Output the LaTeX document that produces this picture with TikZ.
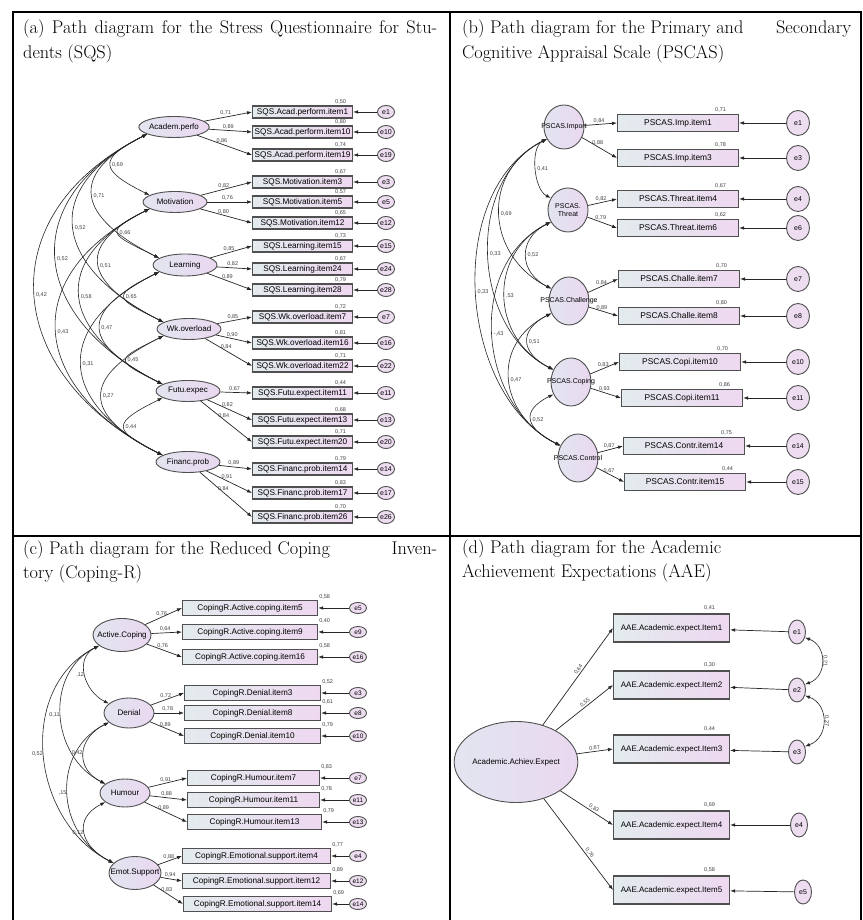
\documentclass[tikz,border=0pt]{standalone}
\usepackage{fontspec}
\newfontfamily\amos{Liberation Sans}
\usetikzlibrary{arrows.meta, positioning, shapes.geometric}
\definecolor{boxL}{HTML}{E3EBEE}
\definecolor{boxR}{HTML}{EED8F0}
\definecolor{latL}{HTML}{E2E5F0}
\definecolor{latR}{HTML}{EAD8F0}
\definecolor{errF}{HTML}{EEDDF1}
\definecolor{edge}{HTML}{505050}

\begin{document}
\begin{tikzpicture}[x=1pt, y=1pt, >={Latex[length=5pt,width=3.6pt]},
  lat/.style={ellipse, draw=edge, line width=0.9pt, left color=latL, right color=latR, inner sep=0pt, font=\amos\fontsize{8}{9}\selectfont},
  obs/.style={rectangle, draw=edge, line width=1.1pt, left color=boxL, right color=boxR, inner sep=0pt, anchor=west},
  err/.style={ellipse, draw=edge, line width=0.9pt, fill=errF, inner sep=0pt, font=\amos\fontsize{7}{8}\selectfont},
  ld/.style={->, line width=0.7pt, draw=black!85},
  cov/.style={<->, line width=0.6pt, draw=black!85},
  num/.style={font=\amos\fontsize{5.5}{6}\selectfont, text=black!75, inner sep=1pt},
  ttl/.style={anchor=base west, inner sep=0pt, font=\fontsize{18.3}{22}\selectfont},
  frame/.style={line width=1.5pt}]

\fill[white] (0,0) rectangle (862,920);
\useasboundingbox (0,0) rectangle (862,920);

% frame of the four panels
\draw[frame] (13,0) -- (13,908) -- (861,908) -- (861,0);
\draw[frame] (450,0) -- (450,908);
\draw[frame] (13,384) -- (861,384);

% (a) SQS
\node[ttl] (tA1) at (23,886) {\makebox[414pt][s]{(a) Path diagram for the Stress Questionnaire for Stu-}};
\node[ttl] (tA2) at (23,861) {dents (SQS)};

\node[lat, minimum width=64pt, minimum height=21pt] (acad) at (174,793) {Academ.perfo};
\node[lat, minimum width=64pt, minimum height=21pt] (motiv) at (175,718) {Motivation};
\node[lat, minimum width=64pt, minimum height=22pt] (learn) at (185,655) {Learning};
\node[lat, minimum width=64pt, minimum height=21pt] (wkov) at (189,591) {Wk.overload};
\node[lat, minimum width=64pt, minimum height=21pt] (futu) at (188,529) {Futu.expec};
\node[lat, minimum width=64pt, minimum height=21pt] (finan) at (188,458) {Financ.prob};

\foreach \fa/\bx/\yy/\txt/\ldg/\rsq/\er in {
  acad/a1/808/SQS.Acad.perform.item1/{0,71}/{0,50}/e1,
  acad/a2/788/SQS.Acad.perform.item10/{0,89}/{0,80}/e10,
  acad/a3/765/SQS.Acad.perform.item19/{0,86}/{0,74}/e19,
  motiv/a4/738/SQS.Motivation.item3/{0,82}/{0,67}/e3,
  motiv/a5/718/SQS.Motivation.item5/{0,76}/{0,57}/e5,
  motiv/a6/697/SQS.Motivation.item12/{0,80}/{0,65}/e12,
  learn/a7/674/SQS.Learning.item15/{0,85}/{0,73}/e15,
  learn/a8/651/SQS.Learning.item24/{0,82}/{0,67}/e24,
  learn/a9/630/SQS.Learning.item28/{0,89}/{0,79}/e28,
  wkov/a10/603/SQS.Wk.overload.item7/{0,85}/{0,72}/e7,
  wkov/a11/577/SQS.Wk.overload.item16/{0,90}/{0,81}/e16,
  wkov/a12/554/SQS.Wk.overload.item22/{0,84}/{0,71}/e22,
  futu/a13/527/SQS.Futu.expect.item11/{0,67}/{0,44}/e11,
  futu/a14/500/SQS.Futu.expect.item13/{0,82}/{0,68}/e13,
  futu/a15/478/SQS.Futu.expect.item20/{0,84}/{0,71}/e20,
  finan/a16/451/SQS.Financ.prob.item14/{0,89}/{0,79}/e14,
  finan/a17/427/SQS.Financ.prob.item17/{0,91}/{0,83}/e17,
  finan/a18/403/SQS.Financ.prob.item26/{0,84}/{0,70}/e26}
{
  \node[obs, minimum width=100pt, minimum height=12pt, font=\amos\fontsize{8.2}{9}\selectfont] (\bx) at (252,\yy) {\txt};
  \node[err, minimum width=17pt, minimum height=13pt] (e\bx) at (386,\yy) {\er};
  \draw[ld] (e\bx) -- (\bx);
  \draw[ld] (\fa) -- node[num, pos=0.45, above] {\ldg} (\bx.west);
  \node[num, above left=0pt and 6pt of \bx.north east] {\rsq};
}

\foreach \p/\q/\k/\v in {acad/motiv/50/{0,69}, acad/learn/81/{0,71}, acad/wkov/109/{0,52},
  acad/futu/132/{0,52}, acad/finan/160/{0,42}, motiv/learn/48/{0,66}, motiv/wkov/77/{0,51},
  motiv/futu/102/{0,58}, motiv/finan/133/{0,43}, learn/wkov/49/{0,65}, learn/futu/81/{0,47},
  learn/finan/106/{0,31}, wkov/futu/49/{0,45}, wkov/finan/82/{0,27}, futu/finan/51/{0,44}}
  \draw[cov] (\p.195) .. controls +(-\k,-0.5*\k) and +(-\k,0.5*\k) .. (\q.165) node[num, pos=0.5, right] {\v};

% (b) PSCAS
\node[ttl] (tB1) at (462,886) {\makebox[389pt][l]{(b) Path diagram for the Primary and\hfill Secondary}};
\node[ttl] (tB2) at (462,861) {Cognitive Appraisal Scale (PSCAS)};

\node[lat, minimum width=40pt, minimum height=44pt, font=\amos\fontsize{7}{8}\selectfont] (imp) at (564,793) {\makebox[0pt]{PSCAS.Import}};
\node[lat, minimum width=40pt, minimum height=44pt, font=\amos\fontsize{7}{8}\selectfont] (thr) at (568,710) {\makebox[0pt]{\shortstack{PSCAS.\\Threat}}};
\node[lat, minimum width=40pt, minimum height=48pt, font=\amos\fontsize{7}{8}\selectfont] (cha) at (569,619) {\makebox[0pt]{PSCAS.Challenge}};
\node[lat, minimum width=40pt, minimum height=48pt, font=\amos\fontsize{7}{8}\selectfont] (cop) at (571,538) {\makebox[0pt]{PSCAS.Coping}};
\node[lat, minimum width=40pt, minimum height=48pt, font=\amos\fontsize{7}{8}\selectfont] (con) at (578,462) {\makebox[0pt]{PSCAS.Control}};

\foreach \fa/\bx/\xx/\yy/\txt/\ldg/\rsq/\er in {
  imp/b1/617/797/PSCAS.Imp.item1/{0,84}/{0,71}/e1,
  imp/b2/617/762/PSCAS.Imp.item3/{0,88}/{0,78}/e3,
  thr/b3/617/721/PSCAS.Threat.item4/{0,82}/{0,67}/e4,
  thr/b4/617/692/PSCAS.Threat.item6/{0,79}/{0,62}/e6,
  cha/b5/618/641/PSCAS.Challe.item7/{0,84}/{0,70}/e7,
  cha/b6/618/604/PSCAS.Challe.item8/{0,89}/{0,80}/e8,
  cop/b7/619/558/PSCAS.Copi.item10/{0,83}/{0,70}/e10,
  cop/b8/621/522/PSCAS.Copi.item11/{0,93}/{0,86}/e11,
  con/b9/623/474/PSCAS.Contr.item14/{0,87}/{0,75}/e14,
  con/b10/624/438/PSCAS.Contr.item15/{0,67}/{0,44}/e15}
{
  \node[obs, minimum width=121pt, minimum height=17pt, font=\amos\fontsize{8.4}{9}\selectfont] (\bx) at (\xx,\yy) {\txt};
  \node[err, minimum width=23pt, minimum height=25pt] (e\bx) at (798,\yy) {\er};
  \draw[ld] (e\bx) -- (\bx);
  \draw[ld] (\fa) -- node[num, pos=0.45, above] {\ldg} (\bx.west);
  \node[num, above left=1pt and 12pt of \bx.north east] {\rsq};
}

\foreach \p/\q/\k/\v in {imp/thr/17/{0,41}, imp/cha/66/{0,69}, imp/cop/82/{0,33}, imp/con/103/{0,33},
  thr/cha/33/{0,52}, thr/cop/63/{,53}, thr/con/84/{-,43}, cha/cop/33/{0,51}, cha/con/62/{0,47}, cop/con/34/{0,52}}
  \draw[cov] (\p.215) .. controls +(-\k,-0.5*\k) and +(-\k,0.5*\k) .. (\q.145) node[num, pos=0.5, right] {\v};

% (c) Coping-R
\node[ttl] (tC1) at (23,365) {\makebox[414pt][l]{(c) Path diagram for the Reduced Coping\hfill Inven-}};
\node[ttl] (tC2) at (23,341) {tory (Coping-R)};

\node[lat, minimum width=58pt, minimum height=33pt] (act) at (122,285) {\makebox[0pt]{Active.Coping}};
\node[lat, minimum width=50pt, minimum height=30pt] (den) at (129,207) {Denial};
\node[lat, minimum width=50pt, minimum height=28pt] (hum) at (125,127) {Humour};
\node[lat, minimum width=52pt, minimum height=33pt] (emo) at (135,47) {\makebox[0pt]{Emot.Support}};

\foreach \fa/\bx/\xx/\yy/\ww/\txt/\ldg/\rsq/\er in {
  act/c1/182/312/135/CopingR.Active.coping.item5/{0,76}/{0,58}/e5,
  act/c2/182/288/135/CopingR.Active.coping.item9/{0,64}/{0,40}/e9,
  act/c3/182/263/135/CopingR.Active.coping.item16/{0,76}/{0,58}/e16,
  den/c4/184/227/136/CopingR.Denial.item3/{0,72}/{0,52}/e3,
  den/c5/184/207/136/CopingR.Denial.item8/{0,78}/{0,61}/e8,
  den/c6/184/184/136/CopingR.Denial.item10/{0,89}/{0,79}/e10,
  hum/c7/187/142/132/CopingR.Humour.item7/{0,91}/{0,83}/e7,
  hum/c8/187/120/132/CopingR.Humour.item11/{0,88}/{0,78}/e11,
  hum/c9/187/98/134/CopingR.Humour.item13/{0,89}/{0,79}/e13,
  emo/c10/182/64/148/CopingR.Emotional.support.item4/{0,88}/{0,77}/e4,
  emo/c11/182/39/148/CopingR.Emotional.support.item12/{0,94}/{0,89}/e12,
  emo/c12/183/16/148/CopingR.Emotional.support.item14/{0,83}/{0,69}/e14}
{
  \node[obs, minimum width=\ww pt, minimum height=15pt, font=\amos\fontsize{8.2}{9}\selectfont] (\bx) at (\xx,\yy) {\txt};
  \node[err, minimum width=17pt, minimum height=11pt, font=\amos\fontsize{6.5}{7}\selectfont] (e\bx) at (358,\yy) {\makebox[0pt]{\er}};
  \draw[ld] (e\bx) -- (\bx);
  \draw[ld] (\fa) -- node[num, pos=0.45, above] {\ldg} (\bx.west);
  \node[num, above right=0pt and 0pt of \bx.north east] {\rsq};
}

\foreach \p/\q/\k/\v in {act/den/25/{,12}, act/hum/55/{0,11}, act/emo/83/{0,52},
  den/hum/31/{0,42}, den/emo/58/{,15}, hum/emo/33/{0,12}}
  \draw[cov] (\p.205) .. controls +(-\k,-0.5*\k) and +(-\k,0.5*\k) .. (\q.155) node[num, pos=0.5, left] {\v};

% (d) AAE
\node[ttl] (tD1) at (462,366) {(d) Path diagram for the Academic};
\node[ttl] (tD2) at (462,342) {Achievement Expectations (AAE)};

\node[lat, minimum width=117pt, minimum height=81pt] (aae) at (516,158) {Academic.Achiev.Expect};

\foreach \bx/\yy/\xe/\ye/\pp/\txt/\ldg/\rsq/\er in {
  d1/292/797/288/0.55/AAE.Academic.expect.Item1/{0,64}/{0,41}/e1,
  d2/235/797/230/0.55/AAE.Academic.expect.Item2/{0,55}/{0,30}/e2,
  d3/171/797/168/0.5/AAE.Academic.expect.Item3/{0,67}/{0,44}/e3,
  d4/95/799/95/0.6/AAE.Academic.expect.Item4/{0,83}/{0,69}/e4,
  d5/30/803/28/0.62/AAE.Academic.expect.Item5/{0,76}/{0,58}/e5}
{
  \node[obs, minimum width=116pt, minimum height=28pt, font=\amos\fontsize{8}{9}\selectfont] (\bx) at (613,\yy) {\txt};
  \node[err, minimum width=17pt, minimum height=24pt] (e\bx) at (\xe,\ye) {\er};
  \draw[ld] (e\bx) -- (\bx);
  \draw[ld] (aae) -- node[num, pos=\pp, above, sloped] {\ldg} (\bx.west);
  \node[num, above left=2pt and 14pt of \bx.north east] {\rsq};
}

\draw[cov] (ed1.-35) to[out=-20, in=20, looseness=1.3] node[num, pos=0.5, anchor=south, rotate=-90] {0,21} (ed2.35);
\draw[cov] (ed2.-35) to[out=-20, in=20, looseness=1.3] node[num, pos=0.5, anchor=south, rotate=-90] {0,27} (ed3.35);
\end{tikzpicture}
\end{document}
